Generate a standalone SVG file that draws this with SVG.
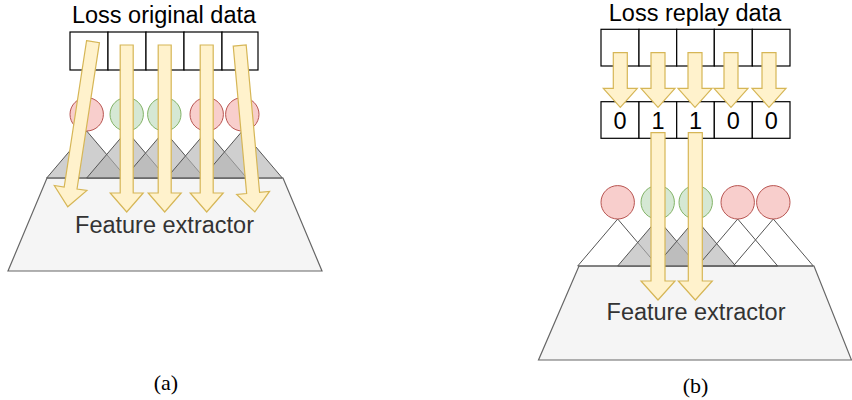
<svg xmlns="http://www.w3.org/2000/svg" xmlns:xlink="http://www.w3.org/1999/xlink" width="852" height="400" viewBox="0 0 852 400">
<style>
.t{font-family:"Liberation Sans",Arial,sans-serif;font-size:23.5px;text-anchor:middle;fill:#000}
.fe{fill:#333}
.cap{font-family:"Liberation Serif","Times New Roman",serif;font-size:22px;text-anchor:middle;fill:#000}
.cell{fill:#fff;stroke:#000;stroke-width:1.2}
.red{fill:#f8cecc;stroke:#b85450;stroke-width:1}
.green{fill:#d5e8d4;stroke:#82b366;stroke-width:1}
.tri{fill:#b2b2b2;fill-opacity:0.625;stroke:#555;stroke-width:1}
.triw{fill:none;stroke:#555;stroke-width:1}
.trap{fill:#f5f5f5;stroke:#666;stroke-width:1.2}
.arr{fill:#fff2cc;stroke:#d6b656;stroke-width:1.2}
</style>
<defs>
<path id="longA" class="arr" d="M-6.5 0 L6.5 0 L6.5 148 L16.5 148 L0 167 L-16.5 148 L-6.5 148 Z"/>
<path id="shortA" class="arr" d="M-7 0 L7 0 L7 35.6 L17 35.6 L0 54.6 L-17 35.6 L-7 35.6 Z"/>
<path id="midA" class="arr" d="M-7 0 L7 0 L7 148.3 L17 148.3 L0 167.3 L-17 148.3 L-7 148.3 Z"/>
</defs>

<!-- Panel (a) -->
<g id="a-title"><text class="t" x="164" y="23">Loss original data</text></g>
<g id="a-extractor">
<polygon class="trap" points="47,178 283,178 322,271 8,271"/>
<text class="t fe" x="164.5" y="233">Feature extractor</text>
</g>
<g id="a-triangles">
<polygon class="tri" points="86.7,131 126.7,178 46.7,178"/>
<polygon class="tri" points="126.7,131 166.7,178 86.7,178"/>
<polygon class="tri" points="164.3,131 204.3,178 124.3,178"/>
<polygon class="tri" points="206.7,131 246.7,178 166.7,178"/>
<polygon class="tri" points="242.3,131 282.3,178 202.3,178"/>
</g>
<g id="a-nodes">
<circle class="red" cx="86.7" cy="114.3" r="16.7"/>
<circle class="green" cx="126.7" cy="114.3" r="16.7"/>
<circle class="green" cx="164.3" cy="114.3" r="16.7"/>
<circle class="red" cx="206.7" cy="114.3" r="16.7"/>
<circle class="red" cx="242.3" cy="114.3" r="16.7"/>
</g>
<g id="a-data">
<rect class="cell" x="70" y="32" width="38" height="38"/>
<rect class="cell" x="108" y="32" width="38" height="38"/>
<rect class="cell" x="146" y="32" width="38" height="38"/>
<rect class="cell" x="184" y="32" width="38" height="38"/>
<rect class="cell" x="222" y="32" width="36" height="38"/>
</g>
<g id="a-connectors">
<use xlink:href="#longA" transform="translate(93,41.7) rotate(8.7)"/>
<use xlink:href="#longA" transform="translate(126.7,45)"/>
<use xlink:href="#longA" transform="translate(164.7,45)"/>
<use xlink:href="#longA" transform="translate(206.7,45)"/>
<use xlink:href="#longA" transform="translate(239.7,45.5) rotate(-5.2)"/>
</g>
<g id="a-caption"><text class="cap" x="166" y="390">(a)</text></g>

<!-- Panel (b) -->
<g id="b-title"><text class="t" x="695" y="21">Loss replay data</text></g>
<g id="b-extractor">
<polygon class="trap" points="579,266 814,266 851.5,360 538.5,360"/>
<text class="t fe" x="696" y="320">Feature extractor</text>
</g>
<g id="b-triangles">
<polygon class="triw" points="617.7,219 657.7,266 577.7,266"/>
<polygon class="tri" points="657.7,219 697.7,266 617.7,266"/>
<polygon class="tri" points="695.7,219 735.7,266 655.7,266"/>
<polygon class="triw" points="737.7,219 777.7,266 697.7,266"/>
<polygon class="triw" points="773.3,219 813.3,266 733.3,266"/>
</g>
<g id="b-nodes">
<circle class="red" cx="617.7" cy="202.3" r="16.7"/>
<circle class="green" cx="657.7" cy="202.3" r="16.7"/>
<circle class="green" cx="695.7" cy="202.3" r="16.7"/>
<circle class="red" cx="737.7" cy="202.3" r="16.7"/>
<circle class="red" cx="773.3" cy="202.3" r="16.7"/>
</g>
<g id="b-data">
<rect class="cell" x="601" y="29.3" width="38" height="36.7"/>
<rect class="cell" x="639" y="29.3" width="37.7" height="36.7"/>
<rect class="cell" x="676.7" y="29.3" width="37.6" height="36.7"/>
<rect class="cell" x="714.3" y="29.3" width="38" height="36.7"/>
<rect class="cell" x="752.3" y="29.3" width="37.7" height="36.7"/>
</g>
<g id="b-mask">
<rect class="cell" x="601" y="101.7" width="38" height="36.6"/>
<rect class="cell" x="639" y="101.7" width="37.7" height="36.6"/>
<rect class="cell" x="676.7" y="101.7" width="37.6" height="36.6"/>
<rect class="cell" x="714.3" y="101.7" width="38" height="36.6"/>
<rect class="cell" x="752.3" y="101.7" width="37.7" height="36.6"/>
<text class="t" x="620" y="128.5">0</text>
<text class="t" x="658" y="128.5">1</text>
<text class="t" x="695.5" y="128.5">1</text>
<text class="t" x="733.3" y="128.5">0</text>
<text class="t" x="771.2" y="128.5">0</text>
</g>
<g id="b-connectors">
<use xlink:href="#shortA" transform="translate(620.3,52.7)"/>
<use xlink:href="#shortA" transform="translate(658,52.7)"/>
<use xlink:href="#shortA" transform="translate(695,52.7)"/>
<use xlink:href="#shortA" transform="translate(731,52.7)"/>
<use xlink:href="#shortA" transform="translate(769,52.7)"/>
<use xlink:href="#midA" transform="translate(658,132.7)"/>
<use xlink:href="#midA" transform="translate(695.3,132.7)"/>
</g>
<g id="b-caption"><text class="cap" x="695.5" y="393">(b)</text></g>
</svg>
